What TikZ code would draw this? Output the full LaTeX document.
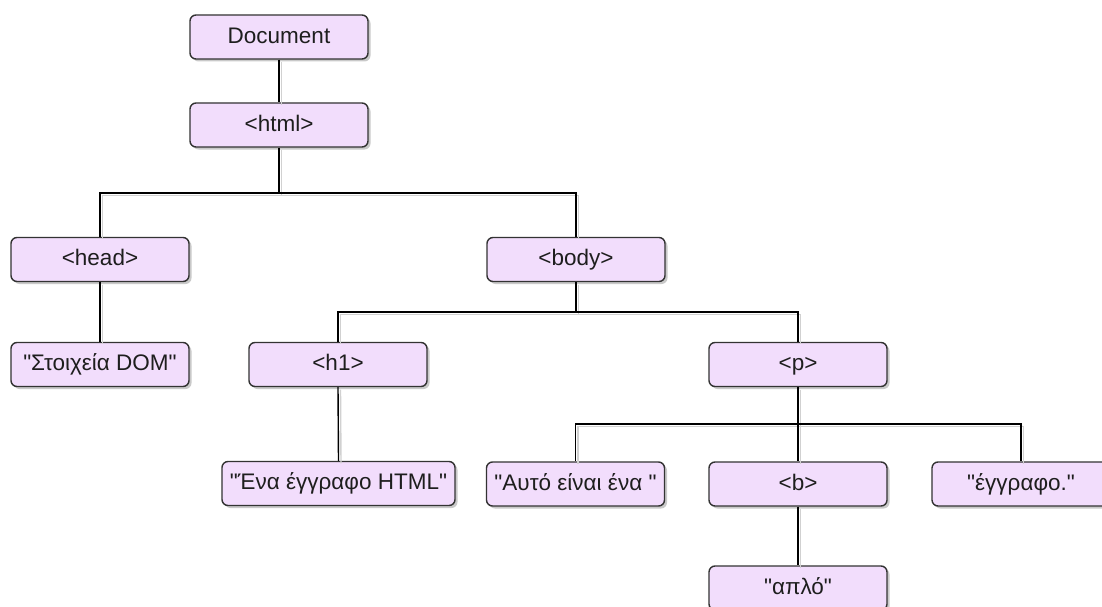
\documentclass[tikz,border=0pt]{standalone}
\usepackage{fontspec}
\setmainfont{Liberation Sans}[Ligatures=TeXOff]
\usetikzlibrary{shadows}
\definecolor{boxfill}{HTML}{F2DDFC}
\definecolor{boxline}{HTML}{333333}
\definecolor{txt}{HTML}{1E1E1E}
\tikzset{
  dombox/.style={draw=boxline, line width=1.4pt, fill=boxfill, rounded corners=6pt,
    minimum width=178pt, minimum height=44pt, inner sep=2pt, text=txt,
    text height=17pt, text depth=4.5pt,
    font=\fontsize{22.5}{25}\selectfont,
    drop shadow={shadow xshift=2.5pt, shadow yshift=-2.5pt, fill=black!35, opacity=0.6}},
  conn/.style={line width=1.4pt, draw=black},
  connshadow/.style={line width=1.4pt, draw=black!18},
}
\newcommand\treeconns[1]{%
  \draw[#1] (doc.south) -- (html.north);
  \draw[#1] (html.south) -- (m1) -| (head.north);
  \draw[#1] (m1) -| (body.north);
  \draw[#1] (head.south) -- (dom.north);
  \draw[#1] (body.south) -- (m2) -| (h1.north);
  \draw[#1] (m2) -| (p.north);
  \draw[#1] (h1.south) -- (ena.north);
  \draw[#1] (p.south) -- (m3) -| (auto.north);
  \draw[#1] (m3) -- (b.north);
  \draw[#1] (m3) -| (eggr.north);
  \draw[#1] (b.south) -- (aplo.north);
}
\begin{document}
\begin{tikzpicture}[x=1pt,y=-1pt]
\useasboundingbox (0,0) rectangle (1102,607);
\clip (0,0) rectangle (1102,607);
\fill[white] (0,0) rectangle (1102,607);
\node[dombox] (doc)  at (279,37) {Document};
\node[dombox] (html) at (279,125) {<html>};
\node[dombox] (head) at (100,259.5) {<head>};
\node[dombox] (body) at (576,259.5) {<body>};
\node[dombox] (dom)  at (100,364.5) {"Στοιχεία DOM"};
\node[dombox] (h1)   at (338,364.5) {<h1>};
\node[dombox] (p)    at (798,364.5) {<p>};
\node[dombox, minimum width=233pt] (ena) at (338.5,483.5) {"Ένα έγγραφο HTML"};
\node[dombox] (auto) at (575.5,484) {"Αυτό είναι ένα "};
\node[dombox] (b)    at (798,484) {<b>};
\node[dombox] (eggr) at (1021,484) {"έγγραφο."};
\node[dombox] (aplo) at (798,588) {"απλό"};
\coordinate (m1) at (279,193);
\coordinate (m2) at (576,312);
\coordinate (m3) at (798,424);
\begin{scope}[transform canvas={shift={(2.5pt,-2.5pt)}}]
\treeconns{connshadow}
\end{scope}
\treeconns{conn}
\end{tikzpicture}
\end{document}
